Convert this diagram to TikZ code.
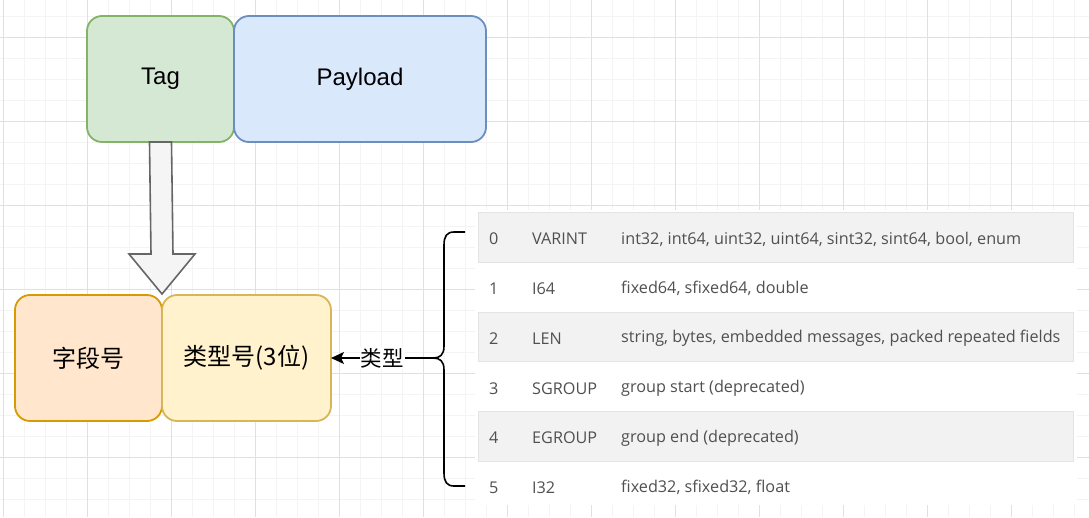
\documentclass[tikz,border=0pt]{standalone}
\usepackage{fontspec}
\setmainfont{Liberation Sans}
\newfontfamily\cjk{Noto Sans CJK SC}
\newfontfamily\tablefont{Open Sans}
\usetikzlibrary{shapes,arrows,arrows.meta,positioning,calc}
\definecolor{tagfill}{HTML}{D5E8D4}
\definecolor{tagline}{HTML}{82B366}
\definecolor{payfill}{HTML}{DAE8FC}
\definecolor{payline}{HTML}{6C8EBF}
\definecolor{fieldfill}{HTML}{FFE6CC}
\definecolor{fieldline}{HTML}{D79B00}
\definecolor{typefill}{HTML}{FFF2CC}
\definecolor{typeline}{HTML}{D6B656}
\definecolor{rowgray}{HTML}{F2F2F2}
\definecolor{rowline}{HTML}{E4E4E4}
\definecolor{celltext}{HTML}{505050}
\definecolor{majorgrid}{HTML}{E0E0E0}
\definecolor{minorgrid}{HTML}{F4F4F4}

\begin{document}
\begin{tikzpicture}[x=1pt, y=-1pt,
    box/.style={draw, line width=1.8pt, rounded corners=15pt, minimum height=126pt,
        inner sep=0pt, outer sep=0pt, font=\fontsize{24}{28}\selectfont},
    bigarrow/.style={draw=black!60, fill=black!4, line width=1.6pt, line join=miter},
    cell/.style={anchor=west, inner sep=0pt, text=celltext, font=\tablefont\fontsize{16.2}{19}\selectfont}]
    \useasboundingbox (0,0) rectangle (1089,517);
    \fill[white] (0,0) rectangle (1089,517);
    % background grid
    \foreach \k in {0,...,51} {
        \draw[minorgrid, line width=1pt] ({3.3+21*\k},0) -- ++(0,517);
    }
    \foreach \k in {-1,...,23} {
        \draw[minorgrid, line width=1pt] (0,{37.3+21*\k}) -- ++(1089,0);
    }
    \foreach \k in {0,...,12} {
        \draw[majorgrid, line width=1pt] ({3.3+84*\k},0) -- ++(0,517);
    }
    \foreach \k in {0,...,5} {
        \draw[majorgrid, line width=1pt] (0,{37.3+84*\k}) -- ++(1089,0);
    }

    % Tag and payload
    \node[box, fill=tagfill, draw=tagline, minimum width=147pt] (tag) at (160.5,79) {Tag};
    \node[box, fill=payfill, draw=payline, minimum width=252pt, right=0pt of tag] (payload) {Payload};

    % field number and wire type
    \node[box, fill=fieldfill, draw=fieldline, minimum width=147pt] (fieldno) at (88.5,358) {\cjk 字段号};
    \node[box, fill=typefill, draw=typeline, minimum width=169pt, right=0pt of fieldno] (wiretype) {\cjk 类型号(3位)};

    % hollow arrow from Tag down
    \coordinate (tip) at ($(fieldno.north east)+(0,-1)$);
    \draw[bigarrow] ($(tag.south)+(-11,0)$) -- ($(tip)+(-11,-40)$) -- ($(tip)+(-33,-40)$)
        -- (tip) -- ($(tip)+(33,-40)$) -- ($(tip)+(11,-40)$) -- ($(tag.south)+(11,0)$) -- cycle;

    % wire type table
    \fill[white] (475,210) rectangle (1077,505);
    \foreach \i in {0,2,4} {
        \draw[rowline, fill=rowgray, line width=0.8pt] (478,{212.5+49.75*\i}) rectangle ++(595,49.75);
    }
    \foreach \num/\wt/\desc [count=\i from 0] in {
        0/VARINT/{int32, int64, uint32, uint64, sint32, sint64, bool, enum},
        1/I64/{fixed64, sfixed64, double},
        2/LEN/{string, bytes, embedded messages, packed repeated fields},
        3/SGROUP/{group start (deprecated)},
        4/EGROUP/{group end (deprecated)},
        5/I32/{fixed32, sfixed32, float}} {
        \node[cell] (num\i) at (489,{239+49.75*\i}) {\num};
        \node[cell] (wt\i) at (532,{239+49.75*\i}) {\wt};
        \node[cell] (desc\i) at (621,{239+49.75*\i}) {\desc};
    }

    % brace
    \coordinate (bracetip) at (433,358);
    \draw[line width=1.6pt] (465,232) -- (454,232) .. controls (447,232) and (444,236) .. (444,245)
        -- (444,346) .. controls (444,355) and (440,358) .. (bracetip)
        .. controls (440,358) and (444,361) .. (444,370)
        -- (444,473) .. controls (444,482) and (447,486) .. (454,486) -- (465,486);
    \draw[-{Stealth[length=13pt, width=12pt, inset=3pt]}, line width=1.6pt] (bracetip) --
        node[fill=white, inner sep=1pt, font=\cjk\fontsize{21.5}{24}\selectfont] {类型} (wiretype.east);
\end{tikzpicture}
\end{document}
